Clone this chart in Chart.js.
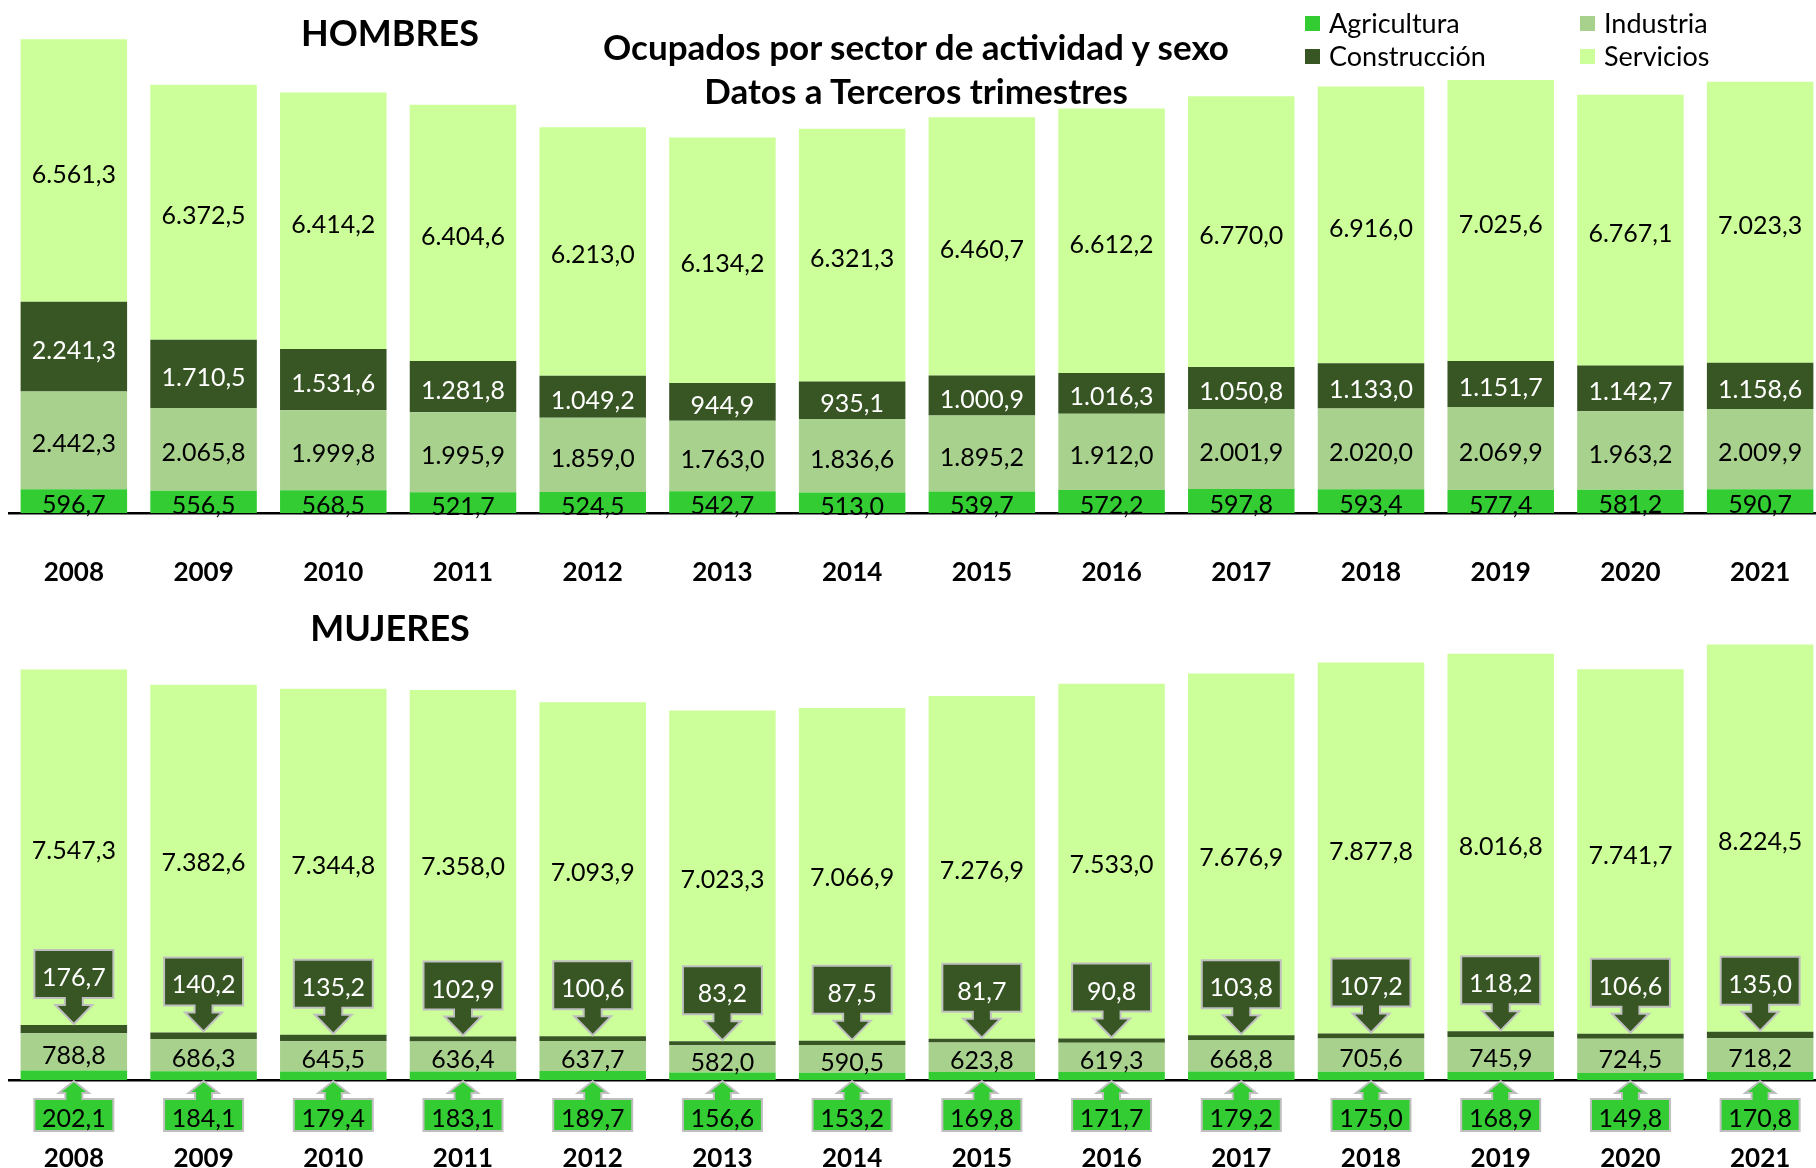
<!DOCTYPE html>
<html lang="es">
<head>
<meta charset="utf-8">
<title>Ocupados por sector de actividad y sexo</title>
<script src="https://cdn.jsdelivr.net/npm/chart.js@4"></script>
<style>
body{margin:0;width:1816px;height:1168px;overflow:hidden;background:#fff;font-family:Lato,'Open Sans',sans-serif;position:relative}
canvas{position:absolute;left:0}
#cH{top:0}
#cM{top:560px}
.txt{position:absolute;white-space:nowrap;color:#000;transform:translate(-50%,-50%)}
.big{font-weight:bold;font-size:36px}
.tit{font-weight:bold;font-size:35px}
.legend{position:absolute;font-size:27px;line-height:30px;display:flex;align-items:center;transform:translateY(-50%)}
.legend span.sw{display:inline-block;width:15px;height:15px;margin-right:9px}
</style>
</head>
<body>
<canvas id="cH" width="1840" height="613"></canvas>
<canvas id="cM" width="1840" height="608"></canvas>

<div class="txt big" style="left:390px;top:32px">HOMBRES</div>
<div class="txt big" style="left:390px;top:627px">MUJERES</div>
<div class="txt tit" style="left:916px;top:46px">Ocupados por sector de actividad y sexo</div>
<div class="txt tit" style="left:916px;top:90px">Datos a Terceros trimestres</div>
<div class="legend" style="left:1305px;top:23px"><span class="sw" style="background:#33CC33"></span>Agricultura</div>
<div class="legend" style="left:1580px;top:23px"><span class="sw" style="background:#A9D18E"></span>Industria</div>
<div class="legend" style="left:1305px;top:56px"><span class="sw" style="background:#375623"></span>Construcción</div>
<div class="legend" style="left:1580px;top:56px"><span class="sw" style="background:#CCFF99"></span>Servicios</div>

<script>
const years=['2008','2009','2010','2011','2012','2013','2014','2015','2016','2017','2018','2019','2020','2021'];

// Hombres (miles)
const hAgricultura=[596.7,556.5,568.5,521.7,524.5,542.7,513.0,539.7,572.2,597.8,593.4,577.4,581.2,590.7];
const hIndustria=[2442.3,2065.8,1999.8,1995.9,1859.0,1763.0,1836.6,1895.2,1912.0,2001.9,2020.0,2069.9,1963.2,2009.9];
const hConstruccion=[2241.3,1710.5,1531.6,1281.8,1049.2,944.9,935.1,1000.9,1016.3,1050.8,1133.0,1151.7,1142.7,1158.6];
const hServicios=[6561.3,6372.5,6414.2,6404.6,6213.0,6134.2,6321.3,6460.7,6612.2,6770.0,6916.0,7025.6,6767.1,7023.3];

// Mujeres (miles)
const mAgricultura=[202.1,184.1,179.4,183.1,189.7,156.6,153.2,169.8,171.7,179.2,175.0,168.9,149.8,170.8];
const mIndustria=[788.8,686.3,645.5,636.4,637.7,582.0,590.5,623.8,619.3,668.8,705.6,745.9,724.5,718.2];
const mConstruccion=[176.7,140.2,135.2,102.9,100.6,83.2,87.5,81.7,90.8,103.8,107.2,118.2,106.6,135.0];
const mServicios=[7547.3,7382.6,7344.8,7358.0,7093.9,7023.3,7066.9,7276.9,7533.0,7676.9,7877.8,8016.8,7741.7,8224.5];

const COL={agri:'#33CC33',ind:'#A9D18E',cons:'#375623',serv:'#CCFF99'};
const FONT='Lato, "Open Sans", sans-serif';

function fmt(v){const p=v.toFixed(1).split('.');return p[0].replace(/\B(?=(\d{3})+(?!\d))/g,'.')+','+p[1]}

function makeSets(a,i,c,s){
  return [
    {label:'Agricultura',data:a,backgroundColor:COL.agri},
    {label:'Industria',data:i,backgroundColor:COL.ind},
    {label:'Construcción',data:c,backgroundColor:COL.cons},
    {label:'Servicios',data:s,backgroundColor:COL.serv}
  ];
}

// callout shape: box + shaft + arrow head, dir=1 points down, dir=-1 points up
function callout(ctx,cx,tipY,dir,g,text,fill,txtCol){
  const bw=79;
  const baseY=tipY-dir*g.hh, shY=baseY-dir*g.sh, farY=shY-dir*g.bh;
  ctx.beginPath();
  ctx.moveTo(cx-bw/2,farY);ctx.lineTo(cx+bw/2,farY);
  ctx.lineTo(cx+bw/2,shY);ctx.lineTo(cx+g.sw/2,shY);
  ctx.lineTo(cx+g.sw/2,baseY);ctx.lineTo(cx+g.hw/2,baseY);
  ctx.lineTo(cx,tipY);
  ctx.lineTo(cx-g.hw/2,baseY);ctx.lineTo(cx-g.sw/2,baseY);
  ctx.lineTo(cx-g.sw/2,shY);ctx.lineTo(cx-bw/2,shY);
  ctx.closePath();
  ctx.fillStyle=fill;ctx.fill();
  ctx.lineWidth=2;ctx.strokeStyle='#BFBFBF';ctx.stroke();
  ctx.fillStyle=txtCol;
  ctx.fillText(text,cx,(farY+shY)/2+4);
}

const segLabels={
  id:'segLabels',
  afterDatasetsDraw(chart,args,opts){
    const ctx=chart.ctx;
    ctx.save();
    ctx.font='25px '+FONT;ctx.textAlign='center';ctx.textBaseline='middle';
    chart.data.datasets.forEach((ds,di)=>{
      const mode=opts.modes[di];
      chart.getDatasetMeta(di).data.forEach((bar,k)=>{
        const txt=fmt(ds.data[k]);
        if(mode==='in'||mode==='inWhite'){
          ctx.fillStyle=mode==='inWhite'?'#fff':'#000';
          ctx.fillText(txt,bar.x,(bar.y+bar.base)/2+4);
        }else if(mode==='down'){
          callout(ctx,bar.x,bar.y-1,1,{bh:48,sh:7,hh:19,sw:18,hw:37},txt,COL.cons,'#fff');
        }else if(mode==='up'){
          callout(ctx,bar.x,bar.base+1,-1,{bh:32,sh:6,hh:12,sw:17,hw:30},txt,COL.agri,'#000');
        }
      });
    });
    ctx.restore();
  }
};

// labels are pushed down with lineHeight (ticks.padding would shift the plot sideways)
function opts(max,padTop,axisH,labelLine,modes){
  return {
    responsive:false,animation:false,
    layout:{padding:{left:9,right:15,top:padTop,bottom:0}},
    datasets:{bar:{barPercentage:0.821,categoryPercentage:1,borderWidth:0}},
    plugins:{legend:{display:false},tooltip:{enabled:false},segLabels:{modes}},
    scales:{
      x:{stacked:true,z:1,
        grid:{display:false,drawTicks:false},
        border:{display:true,color:'#000',width:2.5},
        ticks:{color:'#000',padding:0,font:{family:FONT,size:26,weight:'bold',lineHeight:labelLine+'px'}},
        afterFit(s){s.height=axisH}},
      y:{stacked:true,display:false,min:0,max:max}
    }
  };
}

new Chart(document.getElementById('cH'),{
  type:'bar',
  data:{labels:years,datasets:makeSets(hAgricultura,hIndustria,hConstruccion,hServicios)},
  options:opts(12000,33,100,119,['in','in','inWhite','in']),
  plugins:[segLabels]
});

new Chart(document.getElementById('cM'),{
  type:'bar',
  data:{labels:years,datasets:makeSets(mAgricultura,mIndustria,mConstruccion,mServicios)},
  options:opts(10000,49,88,157,['up','in','down','in']),
  plugins:[segLabels]
});
</script>
</body>
</html>
